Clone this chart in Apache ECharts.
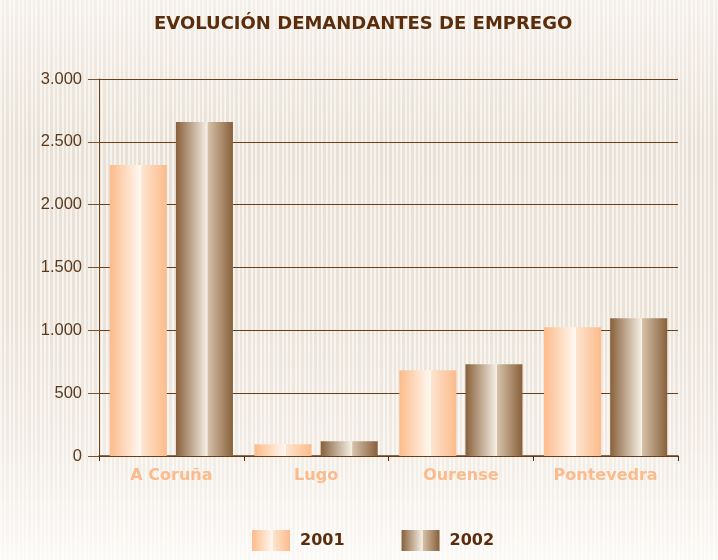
<!DOCTYPE html>
<html>
<head>
<meta charset="utf-8">
<script src="https://cdn.jsdelivr.net/npm/echarts@6/dist/echarts.min.js"></script>
<style>
  html, body { margin: 0; padding: 0; }
  #chart {
    width: 718px; height: 560px;
    background:
      repeating-linear-gradient(90deg, rgba(255,255,255,0.6) 0 2px, rgba(255,255,255,0) 2px 4.4px),
      linear-gradient(180deg, #f4efe8 0%, #e9e1d5 25%, #eae2d7 55%, #f1ebe3 80%, #fbf9f6 100%);
  }
</style>
</head>
<body>
<div id="chart"></div>
<script>
  // provincias
  const categories = ['A Coruña', 'Lugo', 'Ourense', 'Pontevedra'];
  const years = ['2001', '2002'];
  const values2001 = [2316, 93, 682, 1024];
  const values2002 = [2658, 117, 730, 1096];

  // degradado tipo cilindro
  function tube(edge, light, mid) {
    return new echarts.graphic.LinearGradient(0, 0, 1, 0, [
      { offset: 0, color: edge },
      { offset: 0.55, color: light },
      { offset: 0.56, color: mid },
      { offset: 1, color: edge }
    ]);
  }

  let myChart = echarts.init(document.getElementById('chart'));

  let option = {
    animation: false,
    title: {
      text: 'EVOLUCIÓN DEMANDANTES DE EMPREGO',
      left: 149,
      top: 10,
      textStyle: {
        fontFamily: 'DejaVu Sans',
        fontWeight: 'bold',
        fontSize: 18,
        color: '#5a2d0c'
      }
    },
    legend: {
      data: years,
      top: 525,
      left: 247,
      itemWidth: 38,
      itemHeight: 21,
      itemGap: 57,
      icon: 'rect',
      textStyle: {
        fontFamily: 'DejaVu Sans',
        fontWeight: 'bold',
        fontSize: 16,
        color: '#5a2d0c',
        padding: [0, 0, 0, 5]
      }
    },
    grid: {
      left: 99,
      right: 40,
      top: 79,
      bottom: 104
    },
    xAxis: {
      type: 'category',
      data: categories,
      axisLine: { lineStyle: { color: '#6b3f1a', width: 1.5 } },
      axisTick: { show: true, length: 5, lineStyle: { color: '#4a2a10' } },
      axisLabel: {
        margin: 12,
        fontFamily: 'DejaVu Sans',
        fontWeight: 'bold',
        fontSize: 16,
        color: '#fbbb8c'
      }
    },
    yAxis: {
      type: 'value',
      min: 0,
      max: 3000,
      interval: 500,
      axisLine: { show: true, lineStyle: { color: '#6b3f1a' } },
      axisTick: { show: true, length: 11, lineStyle: { color: '#7a5233' } },
      splitLine: { lineStyle: { color: '#6b3f1a', width: 1 } },
      axisLabel: {
        margin: 17,
        fontFamily: 'Liberation Sans',
        fontSize: 16.5,
        color: '#5a3a1c',
        formatter: v => v.toLocaleString('de-DE')
      }
    },
    series: [
      {
        name: '2001',
        type: 'bar',
        data: values2001,
        barWidth: 57,
        barGap: '16%',
        itemStyle: { color: tube('#fcbb8a', '#fff9f2', '#fde4cf') }
      },
      {
        name: '2002',
        type: 'bar',
        data: values2002,
        barWidth: 57,
        itemStyle: { color: tube('#87603a', '#f6f0e6', '#d6c2aa') }
      }
    ]
  };
  myChart.setOption(option);
</script>
</body>
</html>
